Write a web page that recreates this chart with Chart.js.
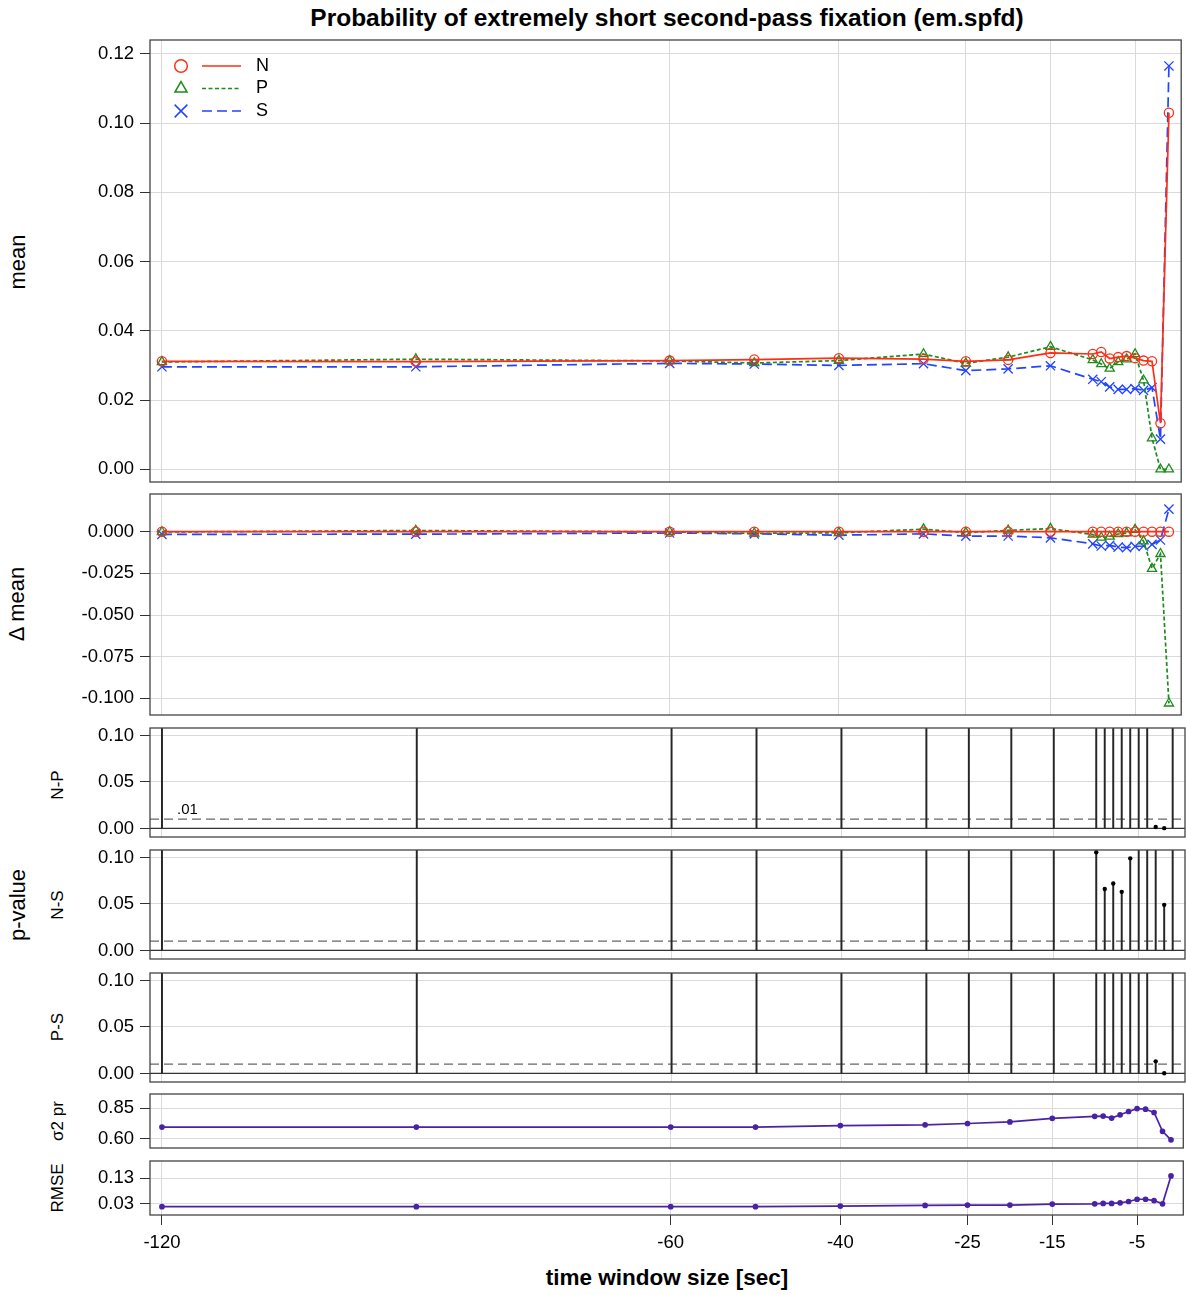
<!DOCTYPE html>
<html>
<head>
<meta charset="UTF-8">
<title>em.spfd</title>
<script src="https://cdn.jsdelivr.net/npm/chart.js@4.4.1/dist/chart.umd.min.js"></script>
<style>
  body { margin: 0; background: #fff; }
  #wrap { position: relative; width: 1186px; height: 1295px; overflow: hidden; font-family: "Liberation Sans", Arial, sans-serif; color: #000; }
  #wrap canvas { position: absolute; left: 0; }
  .lbl { position: absolute; white-space: nowrap; transform: translate(-50%, -50%); }
  .rot { transform: translate(-50%, -50%) rotate(-90deg); }
  .big { font-size: 22px; }
  .small { font-size: 17px; }
</style>
</head>
<body>
<div id="wrap">
  <div class="lbl" style="left:667px; top:18px; font-weight:bold; font-size:24.5px;">Probability of extremely short second-pass fixation (em.spfd)</div>
  <div class="lbl" style="left:667px; top:1278px; font-weight:bold; font-size:22.5px;">time window size [sec]</div>
  <div class="lbl big rot" style="left:18px; top:262px;">mean</div>
  <div class="lbl big rot" style="left:17px; top:604px;">Δ mean</div>
  <div class="lbl big rot" style="left:18px; top:905px;">p-value</div>
  <div class="lbl small rot" style="left:58px; top:785px;">N-P</div>
  <div class="lbl small rot" style="left:58px; top:905px;">N-S</div>
  <div class="lbl small rot" style="left:58px; top:1027px;">P-S</div>
  <div class="lbl small rot" style="left:58px; top:1121px;">σ2 pr</div>
  <div class="lbl small rot" style="left:58px; top:1188px;">RMSE</div>
</div>

<script>
// ---- data ----
var windowSec = [-120, -90, -60, -50, -40, -30, -25, -20, -15, -10, -9, -8, -7, -6, -5, -4, -3, -2, -1];

var meanN = [0.0312, 0.0311, 0.0314, 0.0317, 0.0321, 0.0318, 0.0312, 0.0316, 0.0336, 0.0333, 0.0339, 0.0320, 0.0324, 0.0327, 0.0321, 0.0314, 0.0312, 0.0133, 0.1030];
var meanP = [0.0310, 0.0318, 0.0313, 0.0307, 0.0314, 0.0333, 0.0306, 0.0324, 0.0354, 0.0316, 0.0304, 0.0291, 0.0310, 0.0318, 0.0333, 0.0257, 0.0090, 0.0000, 0.0000];
var meanS = [0.0296, 0.0296, 0.0306, 0.0304, 0.0300, 0.0305, 0.0285, 0.0290, 0.0299, 0.0260, 0.0253, 0.0238, 0.0231, 0.0231, 0.0233, 0.0228, 0.0236, 0.0087, 0.1165];

var deltaN = [0, 0, 0, 0, 0, 0, 0, 0, 0, 0, 0, 0, 0, 0, 0, 0, 0, 0, 0];
var deltaP = [-0.0002, 0.0007, -0.0001, -0.0010, -0.0007, 0.0015, -0.0006, 0.0008, 0.0018, -0.0017, -0.0035, -0.0029, -0.0014, -0.0009, 0.0012, -0.0057, -0.0222, -0.0133, -0.1030];
var deltaS = [-0.0016, -0.0015, -0.0008, -0.0013, -0.0021, -0.0013, -0.0027, -0.0026, -0.0037, -0.0073, -0.0086, -0.0082, -0.0093, -0.0096, -0.0088, -0.0086, -0.0076, -0.0050, 0.0135];

// p-values; 0.5 stands for "above the plotted range" (stem runs off the top)
var pNP = [0.5, 0.5, 0.5, 0.5, 0.5, 0.5, 0.5, 0.5, 0.5, 0.5, 0.5, 0.5, 0.5, 0.5, 0.5, 0.5, 0.0015, 0.0003, 0.5];
var pNS = [0.5, 0.5, 0.5, 0.5, 0.5, 0.5, 0.5, 0.5, 0.5, 0.1056, 0.066, 0.072, 0.063, 0.099, 0.5, 0.5, 0.5, 0.049, 0.5];
var pPS = [0.5, 0.5, 0.5, 0.5, 0.5, 0.5, 0.5, 0.5, 0.5, 0.5, 0.5, 0.5, 0.5, 0.5, 0.5, 0.5, 0.013, 0.0002, 0.5];

var sigma2pr = [0.694, 0.694, 0.694, 0.694, 0.707, 0.713, 0.724, 0.737, 0.767, 0.783, 0.785, 0.769, 0.796, 0.823, 0.847, 0.842, 0.815, 0.659, 0.589];
var rmse = [0.0172, 0.0172, 0.0172, 0.0172, 0.0197, 0.0223, 0.0236, 0.0236, 0.0274, 0.0287, 0.0300, 0.0300, 0.0326, 0.0377, 0.0467, 0.0467, 0.0415, 0.0287, 0.1390];

var xTicks = [-120, -60, -40, -25, -15, -5];
var meanTicks = [0, 0.02, 0.04, 0.06, 0.08, 0.10, 0.12];
var deltaTicks = [0, -0.025, -0.05, -0.075, -0.1];
var pTicks = [0, 0.05, 0.10];
var sigmaTicks = [0.60, 0.85];
var rmseTicks = [0.03, 0.13];
var pLevel = 0.01;

// ---- style ----
var RED = '#ff2d14', GREEN = '#1c8c1c', BLUE = '#2244ff', PURPLE = '#4a22a6';
var GRID = '#dadada', FRAME = '#444';
var PAD = 20;
var TICK_FONT = { size: 18.5 };
Chart.defaults.font.family = '"Liberation Sans", Arial, sans-serif';
Chart.defaults.color = '#000';

function series(arr) {
  return windowSec.map(function (x, i) { return { x: x, y: arr[i] }; });
}

var framePlugin = {
  id: 'frame',
  afterDatasetsDraw: function (chart) {
    var a = chart.chartArea, ctx = chart.ctx;
    ctx.save();
    ctx.strokeStyle = FRAME;
    ctx.lineWidth = 1.3;
    ctx.strokeRect(a.left, a.top, a.right - a.left, a.bottom - a.top);
    ctx.restore();
  }
};

var pLinesPlugin = {
  id: 'plines',
  beforeDatasetsDraw: function (chart, args, opts) {
    var a = chart.chartArea, ys = chart.scales.y, ctx = chart.ctx;
    ctx.save();
    ctx.beginPath();
    ctx.rect(a.left, a.top, a.right - a.left, a.bottom - a.top);
    ctx.clip();
    var y1 = ys.getPixelForValue(pLevel);
    ctx.strokeStyle = '#666';
    ctx.lineWidth = 1.2;
    ctx.setLineDash([9, 5]);
    ctx.beginPath(); ctx.moveTo(a.left, y1); ctx.lineTo(a.right, y1); ctx.stroke();
    ctx.setLineDash([]);
    ctx.strokeStyle = '#333';
    var y0 = ys.getPixelForValue(0);
    ctx.beginPath(); ctx.moveTo(a.left, y0); ctx.lineTo(a.right, y0); ctx.stroke();
    if (opts && opts.note) {
      ctx.fillStyle = '#000';
      ctx.font = '15px "Liberation Sans", Arial, sans-serif';
      ctx.textBaseline = 'bottom';
      ctx.fillText('.01', a.left + 27, y1 - 2);
    }
    ctx.restore();
  }
};

var legendPlugin = {
  id: 'symLegend',
  afterDatasetsDraw: function (chart) {
    var ctx = chart.ctx, a = chart.chartArea;
    chart.data.datasets.forEach(function (ds, i) {
      var y = a.top + 26 + i * 22.5;
      var r = ds.pointStyle === 'crossRot' ? 9 : (ds.pointStyle === 'triangle' ? 7 : 6.3);
      ctx.save();
      ctx.strokeStyle = ds.borderColor;
      ctx.fillStyle = 'rgba(0,0,0,0)';
      ctx.lineWidth = 1.5;
      Chart.helpers.drawPoint(ctx, { pointStyle: ds.pointStyle, radius: r, borderWidth: 1.5, rotation: 0 }, a.left + 31, y);
      ctx.setLineDash(ds.borderDash || []);
      ctx.lineWidth = 1.6;
      ctx.beginPath(); ctx.moveTo(a.left + 52, y); ctx.lineTo(a.left + 91, y); ctx.stroke();
      ctx.setLineDash([]);
      ctx.fillStyle = '#000';
      ctx.font = '18px "Liberation Sans", Arial, sans-serif';
      ctx.textBaseline = 'middle';
      ctx.fillText(ds.label, a.left + 106, y);
      ctx.restore();
    });
  }
};

function panel(p) {
  var wrap = document.getElementById('wrap');
  var cv = document.createElement('canvas');
  var xH = p.showX ? 46 : 0;
  var h = (p.bottom - p.top) + PAD + (p.showX ? 0 : PAD) + xH;
  cv.width = 1189;
  cv.height = h;
  cv.style.top = (p.top - PAD) + 'px';
  wrap.appendChild(cv);

  return new Chart(cv.getContext('2d'), {
    type: 'line',
    data: { datasets: p.datasets },
    plugins: [framePlugin].concat(p.plugins || []),
    options: {
      responsive: false,
      animation: false,
      events: [],
      layout: { padding: { top: PAD, bottom: p.showX ? 0 : PAD, left: 0, right: 2 } },
      plugins: Object.assign({ legend: { display: false }, tooltip: { enabled: false } }, p.pluginOpts || {}),
      scales: {
        x: {
          type: 'linear', min: -121.41, max: 0.45, offset: false,
          afterBuildTicks: function (s) { s.ticks = xTicks.map(function (v) { return { value: v }; }); },
          afterFit: function (s) { s.height = xH; },
          grid: { color: GRID, offset: false, drawTicks: !!p.showX, tickLength: 10, tickColor: '#333' },
          border: { display: false },
          ticks: {
            display: !!p.showX, autoSkip: false, maxRotation: 0, padding: 7,
            font: TICK_FONT, color: '#000',
            callback: function (v) { return String(v); }
          }
        },
        y: {
          type: 'linear', min: p.yMin, max: p.yMax,
          afterBuildTicks: function (s) { s.ticks = p.yTicks.map(function (v) { return { value: v }; }); },
          afterFit: function (s) { s.width = 150; },
          grid: { color: GRID, tickLength: 10, tickColor: '#333' },
          border: { display: false },
          ticks: {
            font: TICK_FONT, color: '#000', padding: 6,
            callback: function (v) { return Number(v).toFixed(p.dec); }
          }
        }
      }
    }
  });
}

function trio(n, pp, s) {
  var common = { backgroundColor: 'rgba(0,0,0,0)', borderWidth: 1.7, pointBackgroundColor: 'rgba(0,0,0,0)', pointBorderWidth: 1.3, tension: 0, clip: 8 };
  return [
    Object.assign({ label: 'N', data: series(n), borderColor: RED, pointBorderColor: RED, pointStyle: 'circle', pointRadius: 4.6 }, common),
    Object.assign({ label: 'P', data: series(pp), borderColor: GREEN, pointBorderColor: GREEN, pointStyle: 'triangle', pointRadius: 5.3, borderDash: [4, 2.5] }, common),
    Object.assign({ label: 'S', data: series(s), borderColor: BLUE, pointBorderColor: BLUE, pointStyle: 'crossRot', pointRadius: 6.5, borderDash: [10, 5] }, common)
  ];
}

function stems(arr) {
  return [
    { type: 'bar', data: series(arr), backgroundColor: '#262626', borderWidth: 0, barThickness: 1.3, grouped: false, clip: 0, order: 2 },
    { type: 'line', data: series(arr), showLine: false, pointRadius: 2.2, pointBackgroundColor: '#000', pointBorderColor: '#000', pointBorderWidth: 0, clip: 0, order: 1 }
  ];
}

function line1(arr) {
  return [{ data: series(arr), borderColor: PURPLE, borderWidth: 1.7, pointRadius: 2, pointBackgroundColor: PURPLE, pointBorderColor: PURPLE, tension: 0, clip: 4 }];
}

panel({ top: 40, bottom: 482, yMin: -0.00367, yMax: 0.124, yTicks: meanTicks, dec: 2,
        datasets: trio(meanN, meanP, meanS), plugins: [legendPlugin] });
panel({ top: 494, bottom: 715, yMin: -0.110, yMax: 0.0226, yTicks: deltaTicks, dec: 3,
        datasets: trio(deltaN, deltaP, deltaS) });
panel({ top: 728, bottom: 837, yMin: -0.0092, yMax: 0.1080, yTicks: pTicks, dec: 2,
        datasets: stems(pNP), plugins: [pLinesPlugin], pluginOpts: { plines: { note: true } } });
panel({ top: 850, bottom: 959, yMin: -0.0092, yMax: 0.1080, yTicks: pTicks, dec: 2,
        datasets: stems(pNS), plugins: [pLinesPlugin], pluginOpts: { plines: { note: false } } });
panel({ top: 973, bottom: 1082, yMin: -0.0092, yMax: 0.1080, yTicks: pTicks, dec: 2,
        datasets: stems(pPS), plugins: [pLinesPlugin], pluginOpts: { plines: { note: false } } });
panel({ top: 1094, bottom: 1148, yMin: 0.521, yMax: 0.968, yTicks: sigmaTicks, dec: 2,
        datasets: line1(sigma2pr) });
panel({ top: 1161, bottom: 1215, yMin: -0.0157, yMax: 0.198, yTicks: rmseTicks, dec: 2,
        datasets: line1(rmse), showX: true });
</script>
</body>
</html>
